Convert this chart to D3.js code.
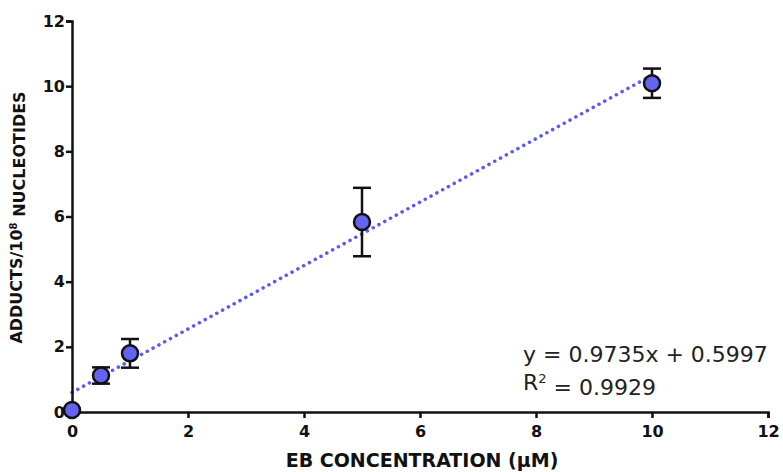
<!DOCTYPE html>
<html>
<head>
<meta charset="utf-8">
<script src="https://cdn.jsdelivr.net/npm/d3@7"></script>
<style>
  body { margin: 0; background: #fff; }
  .tick text { font-family: "DejaVu Sans", sans-serif; font-weight: bold; font-size: 16px; fill: #111; }
  .axisText { font-family: "DejaVu Sans", sans-serif; font-weight: bold; font-size: 16px; fill: #111; }
  .eqText { font-family: "DejaVu Sans", sans-serif; font-size: 22px; fill: #222; }
</style>
</head>
<body>
<div id="chart"></div>
<script>
// EB concentration (uM) vs adducts
var concentration = [0, 0.5, 1, 5, 10];
var adducts = [0.06, 1.12, 1.8, 5.83, 10.09];
var errors = [0.05, 0.25, 0.44, 1.05, 0.45];
var slope = 0.9735, intercept = 0.5997;
var xTicks = [0, 2, 4, 6, 8, 10, 12];
var yTicks = [0, 2, 4, 6, 8, 10, 12];

function drawChart() {
  var margin = {top: 21, right: 15, bottom: 60, left: 72},
      width = 768 - margin.left,
      height = 412 - margin.top;

  var svg = d3.select("#chart").append("svg")
      .attr("width", 783)
      .attr("height", 472)
    .append("g")
      .attr("transform", "translate(" + margin.left + "," + margin.top + ")");

  var x = d3.scaleLinear().domain([0, 12]).range([0, width]);
  var y = d3.scaleLinear().domain([0, 12]).range([height, 0]);

  var xAxis = d3.axisBottom(x).tickValues(xTicks).tickSize(6).tickPadding(5);
  var yAxis = d3.axisLeft(y).tickValues(yTicks).tickSize(6).tickPadding(1);

  // fit line
  svg.append("line")
    .attr("x1", x(0)).attr("y1", y(intercept))
    .attr("x2", x(10)).attr("y2", y(slope * 10 + intercept))
    .style("stroke", "#5a5af5")
    .style("stroke-width", 3.5)
    .style("stroke-dasharray", "0.1,6.5")
    .style("stroke-linecap", "round");

  var gx = svg.append("g")
    .attr("transform", "translate(0," + height + ")")
    .call(xAxis);
  var gy = svg.append("g").call(yAxis);
  [gx, gy].forEach(function(g) {
    g.select(".domain").style("stroke", "#111").style("stroke-width", 2.5);
    g.selectAll(".tick line").style("stroke", "#111").style("stroke-width", 2.5);
  });
  gx.selectAll(".tick text").attr("dy", "0.85em");

  var pts = concentration.map(function(c, i) { return {x: c, y: adducts[i], e: errors[i]}; });

  var eb = svg.selectAll(".err").data(pts).enter().append("g")
    .style("stroke", "#111").style("stroke-width", 2.5);
  eb.append("line")
    .attr("x1", function(d) { return x(d.x); }).attr("x2", function(d) { return x(d.x); })
    .attr("y1", function(d) { return y(d.y + d.e); }).attr("y2", function(d) { return y(d.y - d.e); });
  eb.append("line")
    .attr("x1", function(d) { return x(d.x) - 9; }).attr("x2", function(d) { return x(d.x) + 9; })
    .attr("y1", function(d) { return y(d.y + d.e); }).attr("y2", function(d) { return y(d.y + d.e); });
  eb.append("line")
    .attr("x1", function(d) { return x(d.x) - 9; }).attr("x2", function(d) { return x(d.x) + 9; })
    .attr("y1", function(d) { return y(d.y - d.e); }).attr("y2", function(d) { return y(d.y - d.e); });

  svg.selectAll(".pt").data(pts).enter().append("circle")
    .attr("cx", function(d) { return x(d.x); })
    .attr("cy", function(d) { return y(d.y); })
    .attr("r", 8)
    .style("fill", "#6464f0")
    .style("stroke", "#111")
    .style("stroke-width", 2.5);

  svg.append("text")
    .attr("class", "axisText")
    .attr("x", 350)
    .attr("y", height + 55)
    .style("font-size", "19px")
    .style("text-anchor", "middle")
    .text("EB CONCENTRATION (\u00b5M)");

  var yl = svg.append("text")
    .attr("class", "axisText")
    .attr("transform", "translate(" + (-50) + "," + (height / 2 + 1) + ") rotate(-90)")
    .style("text-anchor", "middle");
  yl.append("tspan").text("ADDUCTS/10");
  yl.append("tspan").attr("dy", "-0.5em").style("font-size", "10px").text("8");
  yl.append("tspan").attr("dy", "0.5em").text(" NUCLEOTIDES");

  svg.append("text")
    .attr("class", "eqText")
    .attr("x", 451).attr("y", 341)
    .text("y = 0.9735x + 0.5997");
  var r2 = svg.append("text")
    .attr("class", "eqText")
    .attr("x", 451).attr("y", 369);
  r2.append("tspan").text("R");
  r2.append("tspan").attr("dy", "-0.55em").style("font-size", "13px").text("2");
  r2.append("tspan").attr("dy", "0.55em").text(" = 0.9929");
}

drawChart();
</script>
</body>
</html>
